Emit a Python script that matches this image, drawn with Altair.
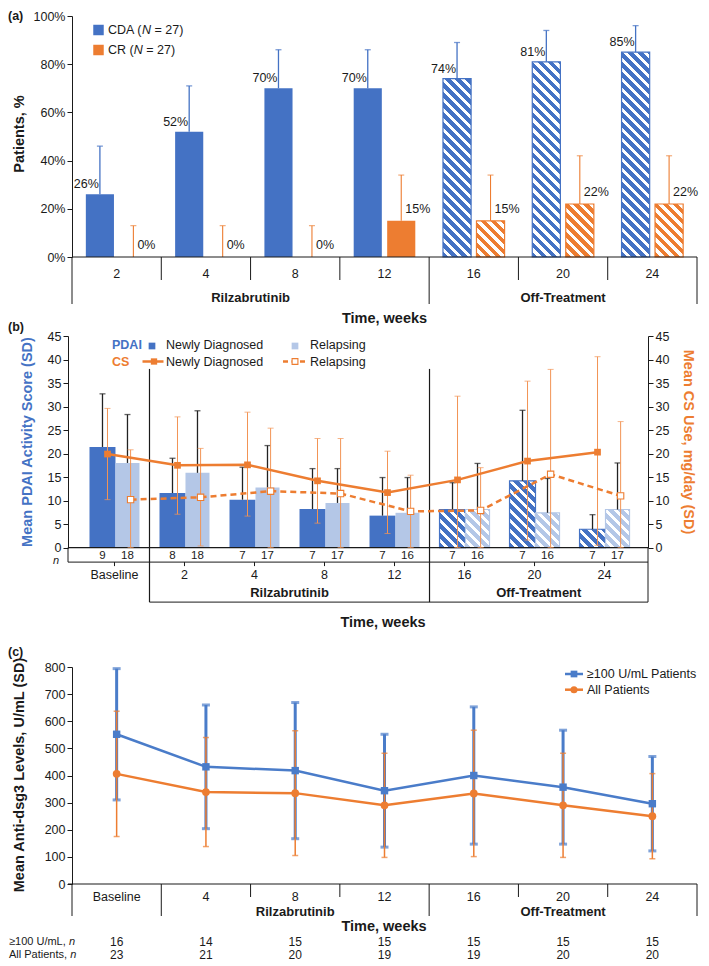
import altair as alt
import pandas as pd

SANS = "'Liberation Sans', Arial, sans-serif"
NARROW = "'Liberation Sans Narrow', 'Liberation Sans', Arial, sans-serif"
BLUE = "#4472C4"
LBLUE = "#B4C7E7"
ORANGE = "#ED7D31"
ORANGE_ERR = "#F29455"
BLUE_C = "#4A7CC9"
INK = "#1a1a1a"

# ---------------- data: panel (a) ----------------
weeks_a = ["2", "4", "8", "12", "16", "20", "24"]
cda_pct = [26, 52, 70, 70, 74, 81, 85]
cda_upper = [46, 71, 86, 86, 89, 94, 96]
cr_pct = [0, 0, 0, 15, 15, 22, 22]
cr_upper = [13, 13, 13, 34, 34, 42, 42]
off_treatment_a = [False, False, False, False, True, True, True]
legend_a = ["CDA (", "CR ("]
legend_n = "= 27)"

# ---------------- data: panel (b) ----------------
cats_b = ["Baseline", "2", "4", "8", "12", "16", "20", "24"]
rilza_b = [False, True, True, True, True, False, False, False]
off_treatment_b = [False, False, False, False, False, True, True, True]
pdai_new = [21.4, 11.6, 10.2, 8.2, 6.8, 8.1, 14.2, 3.9]
pdai_new_upper = [32.7, 19.0, 17.1, 16.8, 14.9, 13.8, 29.2, 7.0]
pdai_rel = [18.0, 15.9, 12.8, 9.5, 7.4, 8.1, 7.4, 8.1]
pdai_rel_upper = [28.3, 29.1, 21.7, 16.8, 14.9, 17.9, 14.7, 18.0]
cs_new = [19.9, 17.5, 17.6, 14.2, 11.7, 14.4, 18.4, 20.3]
cs_new_lower = [10.2, 7.1, 6.7, 5.2, 3.0, 0.0, 1.6, 0.5]
cs_new_upper = [29.6, 27.8, 28.8, 23.2, 20.5, 32.2, 35.4, 40.6]
cs_rel = [10.2, 10.7, 12.0, 11.5, 7.7, 7.9, 15.6, 11.0]
cs_rel_lower = [0.0, 0.35, 0.0, 0.0, 0.0, 0.0, 0.0, 0.0]
cs_rel_upper = [20.8, 21.1, 25.4, 23.2, 15.4, 17.0, 37.9, 26.8]
n_new = [9, 8, 7, 7, 7, 7, 7, 7]
n_rel = [18, 18, 17, 17, 16, 16, 16, 17]

# ---------------- data: panel (c) ----------------
cats_c = ["Baseline", "4", "8", "12", "16", "20", "24"]
off_treatment_c = [False, False, False, False, True, True, True]
hi_mean = [552, 432, 418, 344, 400, 357, 296]
hi_sd = [242, 228, 251, 208, 253, 210, 174]
all_mean = [406, 339, 335, 290, 334, 290, 250]
all_sd = [231, 201, 230, 192, 233, 192, 157]
n_hi = [16, 14, 15, 15, 15, 15, 15]
n_all = [23, 21, 20, 19, 19, 20, 20]


# ---------------- helpers ----------------
def txt(text, x, y, size=12.5, font=SANS, weight="normal", color=INK,
        align="left", angle=0, style="normal", baseline="middle"):
    return alt.Chart(pd.DataFrame({"t": [text]})).mark_text(
        align=align, baseline=baseline, font=font, fontSize=size,
        fontWeight=weight, color=color, angle=angle, fontStyle=style
    ).encode(x=alt.value(x), y=alt.value(y), text="t:N")


def prule(x, x2, y, y2=None, color=INK, w=1.0, dash=None):
    kw = dict(color=color, strokeWidth=w)
    if dash:
        kw["strokeDash"] = dash
    enc = dict(x=alt.value(x), x2=alt.value(x2), y=alt.value(y))
    if y2 is not None:
        enc["y2"] = alt.value(y2)
    return alt.Chart(pd.DataFrame({"k": [0]})).mark_rule(**kw).encode(**enc)


def psym(shape, x, y, size, fill, stroke=None, sw=1.0):
    kw = dict(shape=shape, size=size, fill=fill, opacity=1, fillOpacity=1)
    if stroke:
        kw["stroke"] = stroke
        kw["strokeWidth"] = sw
    else:
        kw["strokeWidth"] = 0
    return alt.Chart(pd.DataFrame({"k": [0]})).mark_point(**kw).encode(
        x=alt.value(x), y=alt.value(y))


def hatch_fill(w, h, color, period=10.0, wf=0.45):
    n = max((w + h) / period, 1.0)
    alpha = (w + h) / (w * w + h * h)
    stops = []
    k = 0
    while k < n:
        t0 = round(min(k / n, 1), 5)
        t1 = round(min((k + 1 - wf) / n, 1), 5)
        t2 = round(min((k + 1) / n, 1), 5)
        stops += [alt.GradientStop(offset=t0, color=color),
                  alt.GradientStop(offset=t1, color=color),
                  alt.GradientStop(offset=t1, color="white"),
                  alt.GradientStop(offset=t2, color="white")]
        k += 1
    return alt.LinearGradient(gradient="linear", stops=stops, x1=0, y1=1,
                              x2=round(w * alpha, 5), y2=round(1 - h * alpha, 5))


# =============== PANEL (a) ===============
WA, HA_PLOT, HA_TOTAL = 625, 241, 319.7
NA = len(weeks_a)
PXA = WA / NA
PYA = HA_PLOT / 100.0
n_on_a = sum(1 for o in off_treatment_a if not o)

dfa = pd.DataFrame(dict(week=weeks_a, cda=cda_pct, cda_hi=cda_upper,
                        cr=cr_pct, cr_hi=cr_upper, off=off_treatment_a))
dfa["i"] = range(NA)
dfa["c"] = dfa["i"] + 0.5
dfa["cda_x0"] = dfa["c"] - 0.345
dfa["cda_x1"] = dfa["c"] - 0.03
dfa["cda_xc"] = (dfa["cda_x0"] + dfa["cda_x1"]) / 2
dfa["cr_x0"] = dfa["c"] + 0.03
dfa["cr_x1"] = dfa["c"] + 0.345
dfa["cr_xc"] = (dfa["cr_x0"] + dfa["cr_x1"]) / 2
dfa["cda_lbl"] = [f"{v}%" for v in cda_pct]
dfa["cr_lbl"] = [f"{v}%" for v in cr_pct]
dfa["zero"] = 0

XS_A = alt.Scale(domain=[0, NA], range=[0, WA], nice=False, zero=False)
YS_A = alt.Scale(domain=[0, 100], range=[HA_PLOT, 0], nice=False, zero=False)
AX_A = alt.Axis(values=[0, 20, 40, 60, 80, 100], labelExpr="datum.value + '%'",
                title=None, grid=False, domainColor=INK, tickColor=INK, tickSize=5,
                labelFont=NARROW, labelFontSize=12.5, labelColor=INK, labelPadding=2)


def xa(f):
    return alt.X(f, type="quantitative", scale=XS_A, axis=None)


def ya(f):
    return alt.Y(f, type="quantitative", scale=YS_A, axis=AX_A)


base_a = alt.Chart(dfa)
on_a = base_a.transform_filter("!datum.off")
la = []
la.append(on_a.mark_rect(color=BLUE).encode(x=xa("cda_x0"), x2="cda_x1", y=ya("cda"), y2="zero"))
la.append(on_a.mark_rect(color=ORANGE).encode(x=xa("cr_x0"), x2="cr_x1", y=ya("cr"), y2="zero"))
for i in range(NA):
    if off_treatment_a[i]:
        w = 0.315 * PXA
        la.append(base_a.transform_filter(f"datum.i == {i}").mark_rect(
            fill=hatch_fill(w, cda_pct[i] * PYA, BLUE), stroke=BLUE, strokeWidth=1.2
        ).encode(x=xa("cda_x0"), x2="cda_x1", y=ya("cda"), y2="zero"))
        la.append(base_a.transform_filter(f"datum.i == {i}").mark_rect(
            fill=hatch_fill(w, cr_pct[i] * PYA, ORANGE), stroke=ORANGE, strokeWidth=1.2
        ).encode(x=xa("cr_x0"), x2="cr_x1", y=ya("cr"), y2="zero"))
# error bars
la.append(base_a.mark_rule(color=BLUE, strokeWidth=1.3).encode(x=xa("cda_xc"), y=ya("cda"), y2="cda_hi"))
la.append(base_a.mark_tick(orient="horizontal", size=6, thickness=1.3, color=BLUE).encode(x=xa("cda_xc"), y=ya("cda_hi")))
la.append(base_a.mark_rule(color=ORANGE, strokeWidth=1.1).encode(x=xa("cr_xc"), y=ya("cr"), y2="cr_hi"))
la.append(base_a.mark_tick(orient="horizontal", size=6, thickness=1.1, color=ORANGE).encode(x=xa("cr_xc"), y=ya("cr_hi")))
# value labels
la.append(base_a.mark_text(align="right", baseline="bottom", dx=-1, dy=-3, font=NARROW,
                           fontSize=12.5, color=INK).encode(x=xa("cda_xc"), y=ya("cda"), text="cda_lbl:N"))
la.append(base_a.mark_text(align="left", baseline="bottom", dx=4, dy=-5, font=NARROW,
                           fontSize=12.5, color=INK).encode(x=xa("cr_xc"), y=ya("cr"), text="cr_lbl:N"))
# x axis and category structure
la.append(prule(0, WA, HA_PLOT))
sep_a = pd.DataFrame({"b": list(range(NA + 1))})
sep_a["long"] = sep_a["b"].isin([0, n_on_a, NA])
la.append(alt.Chart(sep_a).transform_filter("!datum.long").mark_rule(color=INK).encode(
    x=xa("b"), y=alt.value(HA_PLOT), y2=alt.value(HA_PLOT + 23)))
la.append(alt.Chart(sep_a).transform_filter("datum.long").mark_rule(color=INK).encode(
    x=xa("b"), y=alt.value(HA_PLOT), y2=alt.value(HA_PLOT + 47)))
la.append(base_a.mark_text(font=NARROW, fontSize=12.5, color=INK).encode(
    x=xa("c"), y=alt.value(HA_PLOT + 17), text="week:N"))
grp_a = pd.DataFrame({"label": ["Rilzabrutinib", "Off-Treatment"],
                      "xc": [n_on_a / 2, (n_on_a + NA) / 2]})
la.append(alt.Chart(grp_a).mark_text(font=NARROW, fontSize=13, fontWeight="bold", color=INK).encode(
    x=xa("xc"), y=alt.value(HA_PLOT + 41), text="label:N"))
la.append(txt("Time, weeks", WA / 2, HA_PLOT + 62, size=14.5, font=NARROW, weight="bold", align="center"))
la.append(txt("Patients, %", -52, 118, size=14.5, weight="bold", angle=270, align="center"))
la.append(txt("(a)", -64, 0, size=12.5, weight="bold"))
# legend (italic N)
la.append(psym("square", 26.5, 14, 110, BLUE))
la.append(psym("square", 26.5, 34, 110, ORANGE))
la.append(txt(legend_a[0], 36, 14, size=12.5))
la.append(txt("N", 70, 14, size=12.5, style="italic"))
la.append(txt(legend_n, 82.5, 14, size=12.5))
la.append(txt(legend_a[1], 36, 34, size=12.5))
la.append(txt("N", 61.7, 34, size=12.5, style="italic"))
la.append(txt(legend_n, 74.2, 34, size=12.5))

panel_a = alt.layer(*la).properties(width=WA, height=HA_TOTAL)

# =============== PANEL (b) ===============
WB, HB_PLOT, HB_TOTAL = 576, 211.6, 330.6
NB = len(cats_b)
XB0, XB1 = -0.107, 8.121
PXB = WB / (XB1 - XB0)
PYB = HB_PLOT / 45.0
first_rilza = rilza_b.index(True)
first_off = off_treatment_b.index(True)

dfb = pd.DataFrame(dict(cat=cats_b, new=pdai_new, new_hi=pdai_new_upper,
                        rel=pdai_rel, rel_hi=pdai_rel_upper,
                        cs_new=cs_new, cs_new_lo=cs_new_lower, cs_new_hi=cs_new_upper,
                        cs_rel=cs_rel, cs_rel_lo=cs_rel_lower, cs_rel_hi=cs_rel_upper,
                        n_new=n_new, n_rel=n_rel, off=off_treatment_b))
dfb["i"] = range(NB)
dfb["c"] = dfb["i"] + 0.5
dfb["new_x0"] = dfb["c"] - 0.357
dfb["new_x1"] = dfb["c"] + 0.014
dfb["new_xc"] = (dfb["new_x0"] + dfb["new_x1"]) / 2
dfb["rel_x0"] = dfb["c"] + 0.014
dfb["rel_x1"] = dfb["c"] + 0.357
dfb["rel_xc"] = (dfb["rel_x0"] + dfb["rel_x1"]) / 2
dfb["cs_new_x"] = dfb["c"] - 0.10
dfb["cs_rel_x"] = dfb["c"] + 0.23
dfb["zero"] = 0

XS_B = alt.Scale(domain=[XB0, XB1], range=[0, WB], nice=False, zero=False)
YS_BL = alt.Scale(domain=[0, 45], range=[HB_PLOT, 0], nice=False, zero=False)
YS_BR = alt.Scale(domain=[0, 45], range=[HB_PLOT, 0], nice=False, zero=False)
AX_BL = alt.Axis(values=list(range(0, 46, 5)), title=None, grid=False, offset=4,
                 domainColor=INK, tickColor=INK, tickSize=5, labelFont=SANS,
                 labelFontSize=12.5, labelColor=INK, labelPadding=2)
AX_BR = alt.Axis(orient="right", values=list(range(0, 46, 5)), title=None, grid=False,
                 domainColor=INK, tickColor=INK, tickSize=5, labelFont=SANS,
                 labelFontSize=12.5, labelColor=INK, labelPadding=2)


def xb(f):
    return alt.X(f, type="quantitative", scale=XS_B, axis=None)


def ybl(f):
    return alt.Y(f, type="quantitative", scale=YS_BL, axis=AX_BL)


def ybr(f):
    return alt.Y(f, type="quantitative", scale=YS_BR, axis=AX_BR)


def pxb(v):
    return (v - XB0) * PXB


base_b = alt.Chart(dfb)
on_b = base_b.transform_filter("!datum.off")
lb = []
lb.append(on_b.mark_rect(color=BLUE).encode(x=xb("new_x0"), x2="new_x1", y=ybl("new"), y2="zero"))
lb.append(on_b.mark_rect(color=LBLUE).encode(x=xb("rel_x0"), x2="rel_x1", y=ybl("rel"), y2="zero"))
for i in range(NB):
    if off_treatment_b[i]:
        w = 0.371 * PXB
        w2 = 0.343 * PXB
        lb.append(base_b.transform_filter(f"datum.i == {i}").mark_rect(
            fill=hatch_fill(w, pdai_new[i] * PYB, BLUE), stroke=BLUE, strokeWidth=1.2
        ).encode(x=xb("new_x0"), x2="new_x1", y=ybl("new"), y2="zero"))
        lb.append(base_b.transform_filter(f"datum.i == {i}").mark_rect(
            fill=hatch_fill(w2, pdai_rel[i] * PYB, LBLUE), stroke=LBLUE, strokeWidth=1.2
        ).encode(x=xb("rel_x0"), x2="rel_x1", y=ybl("rel"), y2="zero"))
lb.append(base_b.mark_rule(color="#222", strokeWidth=1.3).encode(x=xb("new_xc"), y=ybl("new"), y2="new_hi"))
lb.append(base_b.mark_tick(orient="horizontal", size=6, thickness=1.3, color="#222").encode(x=xb("new_xc"), y=ybl("new_hi")))
lb.append(base_b.mark_rule(color="#222", strokeWidth=1.3).encode(x=xb("rel_xc"), y=ybl("rel"), y2="rel_hi"))
lb.append(base_b.mark_tick(orient="horizontal", size=6, thickness=1.3, color="#222").encode(x=xb("rel_xc"), y=ybl("rel_hi")))
# structure
DIV_TOP = HB_PLOT - 38 * PYB
BRACKET = HB_PLOT + 54.5
NROW = HB_PLOT + 14.5
div_b = pd.DataFrame({"b": [float(first_rilza), float(first_off)]})
lb.append(alt.Chart(div_b).mark_rule(color=INK, strokeWidth=1.2).encode(
    x=xb("b"), y=alt.value(DIV_TOP), y2=alt.value(BRACKET)))
lb.append(prule(-4, WB, HB_PLOT, w=1.2))
lb.append(prule(-4, WB, NROW))
lb.append(prule(-4, -4, HB_PLOT, NROW))
lb.append(prule(WB, WB, HB_PLOT, BRACKET))
lb.append(prule(pxb(first_rilza), WB, BRACKET))
lb.append(base_b.mark_rule(color=INK).encode(x=xb("c"), y=alt.value(NROW), y2=alt.value(NROW + 4)))
lb.append(base_b.mark_text(font=SANS, fontSize=11.5, color=INK).encode(
    x=xb("new_xc"), y=alt.value(HB_PLOT + 8.5), text="n_new:N"))
lb.append(base_b.mark_text(font=SANS, fontSize=11.5, color=INK).encode(
    x=xb("rel_xc"), y=alt.value(HB_PLOT + 8.5), text="n_rel:N"))
lb.append(txt("n", -16, HB_PLOT + 13.5, size=11, style="italic", align="center"))
lb.append(base_b.mark_text(font=NARROW, fontSize=12.5, color=INK).encode(
    x=xb("c"), y=alt.value(HB_PLOT + 27), text="cat:N"))
grp_b = pd.DataFrame({"label": ["Rilzabrutinib", "Off-Treatment"],
                      "xc": [(first_rilza + first_off) / 2, (first_off + XB1) / 2]})
lb.append(alt.Chart(grp_b).mark_text(font=NARROW, fontSize=13, fontWeight="bold", color=INK).encode(
    x=xb("xc"), y=alt.value(BRACKET - 9), text="label:N"))
lb.append(txt("Time, weeks", 311, BRACKET + 21, size=14.5, font=NARROW, weight="bold", align="center"))
lb.append(txt("Mean PDAI Activity Score (SD)", -44, 106, size=14.5, weight="bold",
              color=BLUE, angle=270, align="center"))
lb.append(txt("Mean CS Use, mg/day (SD)", 616, 106, size=14.5, weight="bold",
              color=ORANGE, angle=90, align="center"))
lb.append(txt("(b)", -64, -9, size=12.5, weight="bold"))
# legend
lb.append(txt("PDAI", 40, 8.5, size=12.5, weight="bold", color=BLUE))
lb.append(txt("CS", 40, 25.5, size=12.5, weight="bold", color=ORANGE))
lb.append(psym("square", 80, 10, 45, BLUE))
lb.append(psym("square", 223, 10, 45, LBLUE))
lb.append(prule(70.5, 91.5, 25.5, color=ORANGE, w=2.5))
lb.append(psym("square", 82, 25.5, 40, ORANGE))
lb.append(prule(211, 235, 25.5, color=ORANGE, w=2.5, dash=[5, 3.5]))
lb.append(psym("square", 223, 25.5, 34, "white", ORANGE, 1.1))
lb.append(txt("Newly Diagnosed", 94, 8.5, size=12.5))
lb.append(txt("Newly Diagnosed", 94, 25.5, size=12.5))
lb.append(txt("Relapsing", 238, 8.5, size=12.5))
lb.append(txt("Relapsing", 238, 25.5, size=12.5))

rb = []
rb.append(base_b.mark_rule(color=ORANGE_ERR, strokeWidth=1).encode(x=xb("cs_new_x"), y=ybr("cs_new_lo"), y2="cs_new_hi"))
rb.append(base_b.mark_tick(orient="horizontal", size=6, thickness=1, color=ORANGE_ERR).encode(x=xb("cs_new_x"), y=ybr("cs_new_hi")))
rb.append(base_b.mark_tick(orient="horizontal", size=6, thickness=1, color=ORANGE_ERR).encode(x=xb("cs_new_x"), y=ybr("cs_new_lo")))
rb.append(base_b.mark_rule(color=ORANGE_ERR, strokeWidth=1).encode(x=xb("cs_rel_x"), y=ybr("cs_rel_lo"), y2="cs_rel_hi"))
rb.append(base_b.mark_tick(orient="horizontal", size=6, thickness=1, color=ORANGE_ERR).encode(x=xb("cs_rel_x"), y=ybr("cs_rel_hi")))
rb.append(base_b.mark_tick(orient="horizontal", size=6, thickness=1, color=ORANGE_ERR).encode(x=xb("cs_rel_x"), y=ybr("cs_rel_lo")))
rb.append(base_b.mark_line(color=ORANGE, strokeWidth=2.5).encode(x=xb("cs_new_x"), y=ybr("cs_new")))
rb.append(base_b.mark_line(color=ORANGE, strokeWidth=2.5, strokeDash=[6, 4]).encode(x=xb("cs_rel_x"), y=ybr("cs_rel")))
rb.append(base_b.mark_point(shape="square", size=45, fill=ORANGE, opacity=1, strokeWidth=0).encode(
    x=xb("cs_new_x"), y=ybr("cs_new")))
rb.append(base_b.mark_point(shape="square", size=40, fill="white", stroke=ORANGE, strokeWidth=1.1, opacity=1).encode(
    x=xb("cs_rel_x"), y=ybr("cs_rel")))

panel_b = alt.layer(alt.layer(*lb), alt.layer(*rb)).resolve_scale(y="independent").properties(
    width=WB, height=HB_TOTAL)

# =============== PANEL (c) ===============
WC, HC = 625, 217
NC = len(cats_c)
n_on_c = sum(1 for o in off_treatment_c if not o)

dfc = pd.DataFrame(dict(cat=cats_c, hi=hi_mean, hi_sd=hi_sd, al=all_mean, al_sd=all_sd,
                        n_hi=n_hi, n_all=n_all))
dfc["i"] = range(NC)
dfc["c"] = dfc["i"] + 0.5
dfc["hi_lo"] = dfc["hi"] - dfc["hi_sd"]
dfc["hi_up"] = dfc["hi"] + dfc["hi_sd"]
dfc["al_lo"] = dfc["al"] - dfc["al_sd"]
dfc["al_up"] = dfc["al"] + dfc["al_sd"]

XS_C = alt.Scale(domain=[0, NC], range=[0, WC], nice=False, zero=False)
YS_C = alt.Scale(domain=[0, 800], nice=False, zero=False)
AX_C = alt.Axis(values=list(range(0, 801, 100)), title=None, grid=False,
                domainColor=INK, tickColor=INK, tickSize=5, labelFont=SANS,
                labelFontSize=12.5, labelColor=INK, labelPadding=2)


def xc(f):
    return alt.X(f, type="quantitative", scale=XS_C, axis=None)


def yc(f):
    return alt.Y(f, type="quantitative", scale=YS_C, axis=AX_C)


base_c = alt.Chart(dfc)
lc = []
lc.append(base_c.mark_rule(color=BLUE_C, strokeWidth=3).encode(x=xc("c"), y=yc("hi_lo"), y2="hi_up"))
lc.append(base_c.mark_tick(orient="horizontal", size=8, thickness=3, color=BLUE_C).encode(x=xc("c"), y=yc("hi_up")))
lc.append(base_c.mark_tick(orient="horizontal", size=8, thickness=3, color=BLUE_C).encode(x=xc("c"), y=yc("hi_lo")))
lc.append(base_c.mark_rule(color=ORANGE, strokeWidth=1.5).encode(x=xc("c"), y=yc("al_lo"), y2="al_up"))
lc.append(base_c.mark_tick(orient="horizontal", size=6, thickness=1.5, color=ORANGE).encode(x=xc("c"), y=yc("al_up")))
lc.append(base_c.mark_tick(orient="horizontal", size=6, thickness=1.5, color=ORANGE).encode(x=xc("c"), y=yc("al_lo")))
lc.append(base_c.mark_line(color=ORANGE, strokeWidth=2.5).encode(x=xc("c"), y=yc("al")))
lc.append(base_c.mark_line(color=BLUE_C, strokeWidth=2.5).encode(x=xc("c"), y=yc("hi")))
lc.append(base_c.mark_point(shape="circle", size=60, fill=ORANGE, opacity=1, strokeWidth=0).encode(x=xc("c"), y=yc("al")))
lc.append(base_c.mark_point(shape="square", size=55, fill=BLUE_C, opacity=1, strokeWidth=0).encode(x=xc("c"), y=yc("hi")))
# structure
lc.append(prule(-4, WC, HC, w=1.2))
sep_c = pd.DataFrame({"b": list(range(NC + 1))})
sep_c["long"] = sep_c["b"].isin([0, 1, n_on_c, NC])
lc.append(alt.Chart(sep_c).transform_filter("!datum.long").mark_rule(color=INK).encode(
    x=xc("b"), y=alt.value(HC), y2=alt.value(HC + 13)))
lc.append(alt.Chart(sep_c).transform_filter("datum.long").mark_rule(color=INK).encode(
    x=xc("b"), y=alt.value(HC), y2=alt.value(HC + 32)))
lc.append(base_c.mark_text(font=NARROW, fontSize=12.5, color=INK).encode(
    x=xc("c"), y=alt.value(HC + 12.5), text="cat:N"))
grp_c = pd.DataFrame({"label": ["Rilzabrutinib", "Off-Treatment"],
                      "xc": [(1 + n_on_c) / 2, (n_on_c + NC) / 2]})
lc.append(alt.Chart(grp_c).mark_text(font=NARROW, fontSize=13, fontWeight="bold", color=INK).encode(
    x=xc("xc"), y=alt.value(HC + 28), text="label:N"))
lc.append(txt("Time, weeks", 312, HC + 42.5, size=14.5, font=NARROW, weight="bold", align="center"))
lc.append(base_c.mark_text(font=NARROW, fontSize=12, color=INK).encode(
    x=xc("c"), y=alt.value(HC + 57.5), text="n_hi:N"))
lc.append(base_c.mark_text(font=NARROW, fontSize=12, color=INK).encode(
    x=xc("c"), y=alt.value(HC + 71), text="n_all:N"))
lc.append(txt("≥100 U/mL,", -63, HC + 57.5, size=11))
lc.append(txt("n", -3.1, HC + 57.5, size=11, style="italic"))
lc.append(txt("All Patients,", -63, HC + 71, size=11))
lc.append(txt("n", -1.8, HC + 71, size=11, style="italic"))
lc.append(txt("Mean Anti-dsg3 Levels, U/mL (SD)", -52, 108, size=14.5, weight="bold",
              angle=270, align="center"))
lc.append(txt("(c)", -64, -15, size=12.5, weight="bold"))
# legend
lc.append(prule(493, 511, 7, color=BLUE_C, w=2.5))
lc.append(psym("square", 502, 7, 45, BLUE_C))
lc.append(prule(493, 511, 22.7, color=ORANGE, w=2.5))
lc.append(psym("circle", 502, 22.7, 50, ORANGE))
lc.append(txt("≥100 U/mL Patients", 515, 7, size=12.5))
lc.append(txt("All Patients", 515, 22.7, size=12.5))

panel_c = alt.layer(*lc).properties(width=WC, height=HC)

chart = alt.vconcat(panel_a, panel_b, panel_c, spacing=0, bounds="flush").properties(
    padding={"left": 0, "top": 2, "right": 0, "bottom": 0}
).configure_view(stroke=None)

chart.save("out.html", embed_options={"renderer": "svg", "actions": False})
